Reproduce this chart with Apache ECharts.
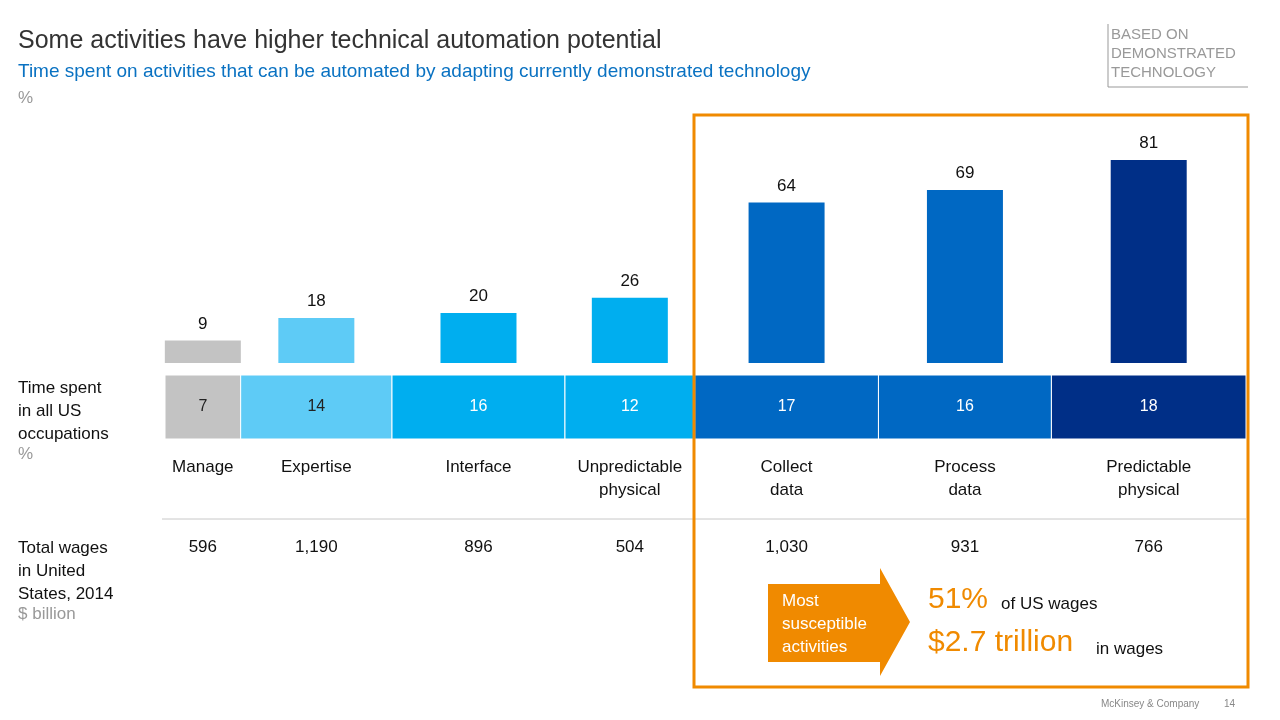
<!DOCTYPE html>
<html>
<head>
<meta charset="utf-8">
<script src="https://cdn.jsdelivr.net/npm/echarts@6/dist/echarts.min.js"></script>
<style>html,body{margin:0;padding:0;background:#fff}#main{width:1280px;height:720px}</style>
</head>
<body>
<div id="main"></div>
<script>
// activity groups, left to right
var categories = ['Manage', 'Expertise', 'Interface', 'Unpredictable\nphysical', 'Collect\ndata', 'Process\ndata', 'Predictable\nphysical'];
// technical automation potential, %
var automation = [9, 18, 20, 26, 64, 69, 81];
// time spent in all US occupations, %
var timeShare = [7, 14, 16, 12, 17, 16, 18];
// total wages in United States, 2014, $ billion
var wages = [596, 1190, 896, 504, 1030, 931, 766];

var colors = ['#c3c3c3', '#5ecbf6', '#00aeef', '#00aeef', '#0068c3', '#0068c3', '#002f87'];
var stripText = ['#222', '#222', '#fff', '#fff', '#fff', '#fff', '#fff'];
var FONT = 'Arial, "Liberation Sans", sans-serif';

var rows = [];
var acc = 0;
for (var i = 0; i < categories.length; i++) {
  rows.push([acc, acc + timeShare[i], automation[i], i]);
  acc += timeShare[i];
}

var myChart = echarts.init(document.getElementById('main'));

function barItem(params, api) {
  var i = api.value(3);
  var c = api.coord([(api.value(0) + api.value(1)) / 2, api.value(2)]);
  var base = api.coord([0, 0]);
  return {
    type: 'group',
    children: [
      { type: 'rect', shape: { x: c[0] - 38, y: c[1], width: 76, height: base[1] - c[1] }, style: { fill: colors[i] } },
      { type: 'text', style: { text: String(api.value(2)), x: c[0], y: c[1] - 8, align: 'center', verticalAlign: 'bottom', fill: '#111', fontSize: 17, fontFamily: FONT } }
    ]
  };
}

function stripItem(params, api) {
  var i = api.value(3);
  var p0 = api.coord([api.value(0), 1]);
  var p1 = api.coord([api.value(1), 0]);
  var cx = (p0[0] + p1[0]) / 2;
  return {
    type: 'group',
    children: [
      { type: 'rect', shape: { x: p0[0], y: p0[1], width: p1[0] - p0[0], height: p1[1] - p0[1] }, style: { fill: colors[i], stroke: '#fff', lineWidth: 1 } },
      { type: 'text', style: { text: String(timeShare[i]), x: cx, y: (p0[1] + p1[1]) / 2, align: 'center', verticalAlign: 'middle', fill: stripText[i], fontSize: 16, fontFamily: FONT } },
      { type: 'text', style: { text: categories[i], x: cx, y: 456, align: 'center', verticalAlign: 'top', fill: '#111', fontSize: 17, lineHeight: 23, fontFamily: FONT } },
      { type: 'text', style: { text: wages[i].toLocaleString('en-US'), x: cx, y: 547, align: 'center', verticalAlign: 'middle', fill: '#111', fontSize: 17, fontFamily: FONT } }
    ]
  };
}

function txt(text, x, y, size, color, extra) {
  var s = { text: text, fill: color, fontSize: size, fontFamily: FONT };
  for (var k in extra) s[k] = extra[k];
  return { type: 'text', left: x, top: y, style: s };
}

var option = {
  animation: false,
  grid: [
    { left: 165, width: 1081, top: 160, height: 203 },
    { left: 165, width: 1081, top: 375, height: 64 }
  ],
  xAxis: [
    { type: 'value', gridIndex: 0, min: 0, max: 100, show: false },
    { type: 'value', gridIndex: 1, min: 0, max: 100, show: false }
  ],
  yAxis: [
    { type: 'value', gridIndex: 0, min: 0, max: 81, show: false },
    { type: 'value', gridIndex: 1, min: 0, max: 1, show: false }
  ],
  series: [
    { type: 'custom', xAxisIndex: 0, yAxisIndex: 0, renderItem: barItem, data: rows, z: 3 },
    { type: 'custom', xAxisIndex: 1, yAxisIndex: 1, renderItem: stripItem, data: rows, z: 3 }
  ],
  graphic: [
    txt('Some activities have higher technical automation potential', 18, 29, 25, '#333'),
    txt('Time spent on activities that can be automated by adapting currently demonstrated technology', 18, 62, 19, '#0a72c2'),
    txt('%', 18, 90, 17, '#999'),
    txt('BASED ON\nDEMONSTRATED\nTECHNOLOGY', 1111, 25, 15, '#999', { lineHeight: 19 }),
    { type: 'polyline', shape: { points: [[1108, 24], [1108, 87], [1248, 87]] }, style: { stroke: '#999', lineWidth: 1, fill: null } },
    txt('Time spent\nin all US\noccupations', 18, 377, 17, '#111', { lineHeight: 23 }),
    txt('%', 18, 446, 17, '#999'),
    txt('Total wages\nin United\nStates, 2014', 18, 537, 17, '#111', { lineHeight: 23 }),
    txt('$ billion', 18, 606, 17, '#999'),
    { type: 'line', shape: { x1: 162, y1: 519, x2: 1246, y2: 519 }, style: { stroke: '#c8c8c8', lineWidth: 1 } },
    { type: 'rect', shape: { x: 694, y: 115, width: 554, height: 572 }, style: { fill: null, stroke: '#f08a00', lineWidth: 3 }, z: 10 },
    { type: 'polygon', shape: { points: [[768, 584], [880, 584], [880, 568], [910, 622], [880, 676], [880, 662], [768, 662]] }, style: { fill: '#f08a00' } },
    txt('Most\nsusceptible\nactivities', 782, 590, 17, '#fff', { lineHeight: 23 }),
    txt('51%', 928, 585, 30, '#f08a00'),
    txt('of US wages', 1001, 596, 17, '#111'),
    txt('$2.7 trillion', 928, 628, 30, '#f08a00'),
    txt('in wages', 1096, 641, 17, '#111'),
    txt('McKinsey & Company', 1101, 699, 10, '#888'),
    txt('14', 1224, 699, 10, '#888')
  ]
};

myChart.setOption(option);
</script>
</body>
</html>
